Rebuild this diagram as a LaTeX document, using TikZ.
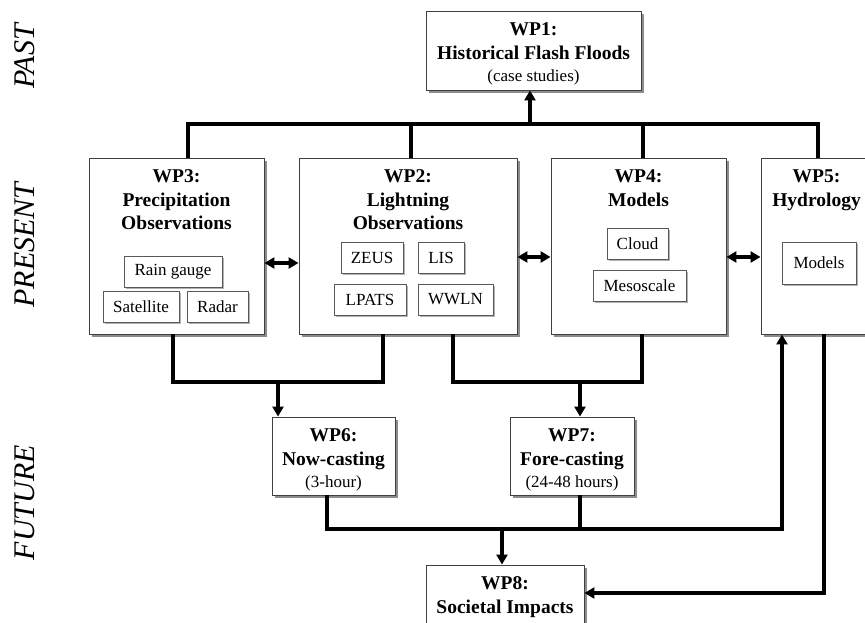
\documentclass[tikz,border=0pt]{standalone}
\usepackage{fontspec}
\setmainfont{Liberation Serif}
\usetikzlibrary{positioning,shadows,arrows.meta}

\newcommand{\subnote}[1]{{\normalfont\fontsize{17}{21}\selectfont #1}}

\tikzset{
  wpbox/.style={draw=black!75, line width=0.9pt, fill=white, inner sep=0pt,
    drop shadow={shadow xshift=2.5pt, shadow yshift=-2.5pt, fill=black!45, opacity=1}},
  itembox/.style={draw=black!65, line width=0.8pt, fill=white, inner sep=0pt,
    minimum height=31pt, font=\fontsize{17}{20}\selectfont,
    drop shadow={shadow xshift=1.5pt, shadow yshift=-1.5pt, fill=black!30, opacity=1}},
  wptitle/.style={align=center, inner sep=0pt, font=\bfseries\fontsize{19.5}{23.5}\selectfont},
  era/.style={rotate=90, inner sep=0pt, font=\itshape\fontsize{30}{30}\selectfont},
  conn/.style={line width=3.2pt},
  arr/.style={conn, -{Triangle[length=10pt,width=11pt]}},
  darr/.style={conn, {Triangle[length=10pt,width=11pt]}-{Triangle[length=10pt,width=11pt]}},
}

\begin{document}
\begin{tikzpicture}[x=1pt, y=1pt]
  \useasboundingbox[fill=white] (0,-622) rectangle (865,0);

  % time axis
  \node[era] (past) at (25,-56.5) {PAST};
  \node[era] (present) at (25,-245) {PRESENT};
  \node[era] (future) at (25,-502.5) {FUTURE};

  % work packages
  \node[wpbox, minimum width=215pt, minimum height=79pt] (wp1) at (533.5,-50.5) {};
  \node[wptitle, below=12pt of wp1.north] (wp1t) {WP1:\\Historical Flash Floods\\[-1.5pt]\subnote{(case studies)}};

  \node[wpbox, minimum width=175pt, minimum height=176pt] (wp3) at (176.5,-246) {};
  \node[wptitle, below=12pt of wp3.north] (wp3t) {WP3:\\Precipitation\\Observations};
  \node[itembox, minimum width=98pt] (rain) at (173,-271.5) {Rain gauge};
  \node[itembox, minimum width=76pt] (sat) at (141,-306.5) {Satellite};
  \node[itembox, minimum width=61pt] (radar) at (217.5,-306.5) {Radar};

  \node[wpbox, minimum width=218pt, minimum height=176pt] (wp2) at (408,-246) {};
  \node[wptitle, below=12pt of wp2.north] (wp2t) {WP2:\\Lightning\\Observations};
  \node[itembox, minimum width=62pt] (zeus) at (372,-257.5) {ZEUS};
  \node[itembox, minimum width=46pt] (lis) at (441,-257.5) {LIS};
  \node[itembox, minimum width=72pt] (lpats) at (370,-299.5) {LPATS};
  \node[itembox, minimum width=75pt] (wwln) at (455.5,-299.5) {WWLN};

  \node[wpbox, minimum width=175pt, minimum height=176pt] (wp4) at (638.5,-246) {};
  \node[wptitle, below=12pt of wp4.north] (wp4t) {WP4:\\Models};
  \node[itembox, minimum width=61pt] (cloud) at (637.5,-243.5) {Cloud};
  \node[itembox, minimum width=93pt] (meso) at (639.5,-285.5) {Mesoscale};

  \node[wpbox, minimum width=111pt, minimum height=176pt] (wp5) at (816.5,-246) {};
  \node[wptitle, below=12pt of wp5.north] (wp5t) {WP5:\\Hydrology};
  \node[itembox, minimum width=74pt, minimum height=42pt] (hmod) at (819,-263) {Models};

  \node[wpbox, minimum width=123pt, minimum height=78pt] (wp6) at (333.5,-456) {};
  \node[wptitle, below=12pt of wp6.north] (wp6t) {WP6:\\Now-casting\\[-1.5pt]\subnote{(3-hour)}};

  \node[wpbox, minimum width=124pt, minimum height=78pt] (wp7) at (572,-456) {};
  \node[wptitle, below=12pt of wp7.north] (wp7t) {WP7:\\Fore-casting\\[-1.5pt]\subnote{(24-48 hours)}};

  \node[wpbox, minimum width=158pt, minimum height=78pt] (wp8) at (505,-604) {};
  \node[wptitle, below=12pt of wp8.north] (wp8t) {WP8:\\Societal Impacts};

  % junctions
  \coordinate (bus) at (530,-124);
  \coordinate (j6) at (278,-382);
  \coordinate (j7) at (580,-382);
  \coordinate (j8) at (502,-529);

  % past link
  \draw[conn] ([xshift=11.5pt]wp3.north) |- ([xshift=1.5pt]wp5.north |- bus) -- ([xshift=1.5pt]wp5.north);
  \draw[conn] ([xshift=3pt]wp2.north) -- ([xshift=3pt]wp2.north |- bus);
  \draw[conn] ([xshift=4.5pt]wp4.north) -- ([xshift=4.5pt]wp4.north |- bus);
  \draw[arr] (bus) -- (bus |- wp1.south);

  % present links
  \draw[darr] ([yshift=-17pt]wp3.east) -- ([yshift=-17pt]wp2.west);
  \draw[darr] ([yshift=-11pt]wp2.east) -- ([yshift=-11pt]wp4.west);
  \draw[darr] ([yshift=-11pt]wp4.east) -- ([yshift=-11pt]wp5.west);

  % future links
  \draw[conn] ([xshift=-3.5pt]wp3.south) |- (j6) -| ([xshift=-25pt]wp2.south);
  \draw[arr] (j6) -- (j6 |- wp6.north);
  \draw[conn] ([xshift=45pt]wp2.south) |- (j7) -| ([xshift=3.5pt]wp4.south);
  \draw[arr] (j7) -- (j7 |- wp7.north);
  \draw[arr] ([xshift=-6.5pt]wp6.south) |- ([xshift=-34.5pt]wp5.south |- j8) -- ([xshift=-34.5pt]wp5.south);
  \draw[conn] ([xshift=8pt]wp7.south) -- ([xshift=8pt]wp7.south |- j8);
  \draw[arr] (j8) -- (j8 |- wp8.north);
  \draw[arr] ([xshift=7.5pt]wp5.south) |- ([yshift=11pt]wp8.east);
\end{tikzpicture}
\end{document}
